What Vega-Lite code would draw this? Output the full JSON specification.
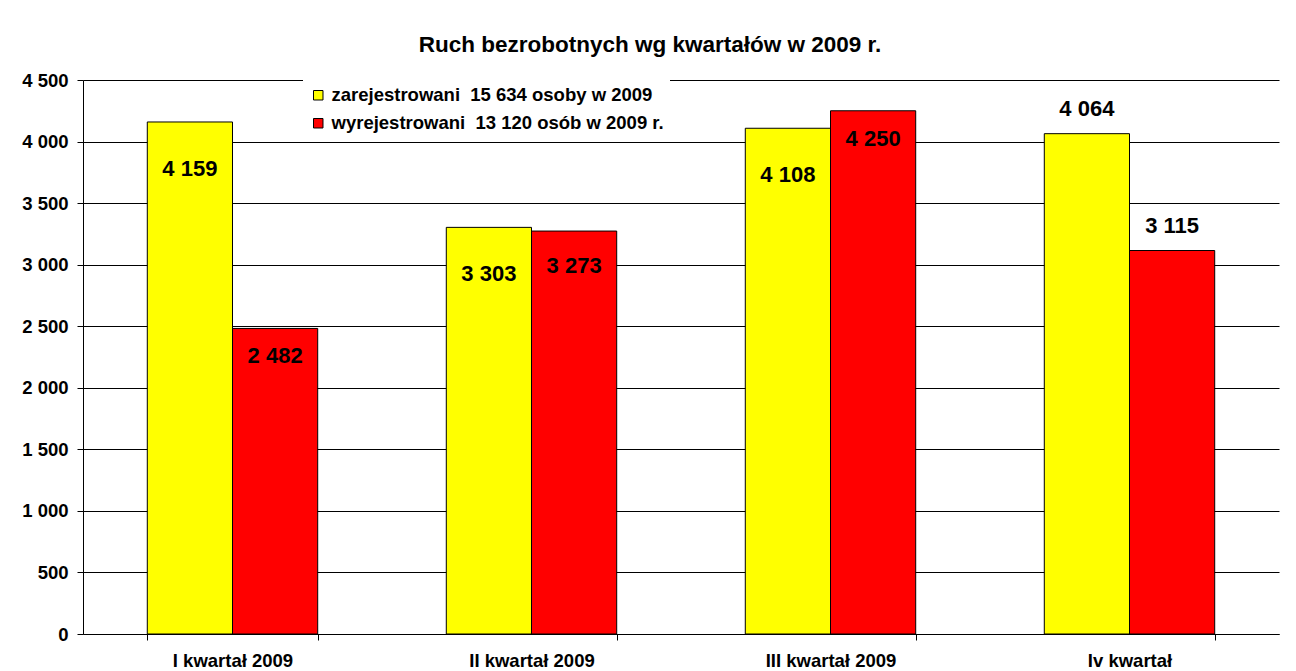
{
  "$schema": "https://vega.github.io/schema/vega-lite/v6.json",
  "width": 1196,
  "height": 554,
  "autosize": {"type": "none"},
  "padding": {"left": 83, "top": 80, "right": 17, "bottom": 37},
  "background": "white",
  "config": {
    "font": "Liberation Sans",
    "locale": {"number": {"decimal": ",", "thousands": " ", "grouping": [3], "currency": ["", " zł"]}},
    "view": {"stroke": null}
  },
  "title": {
    "text": "Ruch bezrobotnych wg kwartałów w 2009 r.",
    "fontSize": 22.5,
    "fontWeight": "bold",
    "color": "black",
    "anchor": "middle",
    "dx": -31,
    "offset": 15
  },
  "data": {
    "values": [
      {"kwartal": "I kwartał 2009", "seria": "zarejestrowani", "osoby": 4159},
      {"kwartal": "I kwartał 2009", "seria": "wyrejestrowani", "osoby": 2482},
      {"kwartal": "II kwartał 2009", "seria": "zarejestrowani", "osoby": 3303},
      {"kwartal": "II kwartał 2009", "seria": "wyrejestrowani", "osoby": 3273},
      {"kwartal": "III kwartał 2009", "seria": "zarejestrowani", "osoby": 4108},
      {"kwartal": "III kwartał 2009", "seria": "wyrejestrowani", "osoby": 4250},
      {"kwartal": "Iv kwartał", "seria": "zarejestrowani", "osoby": 4064},
      {"kwartal": "Iv kwartał", "seria": "wyrejestrowani", "osoby": 3115}
    ]
  },
  "encoding": {
    "x": {
      "field": "kwartal",
      "type": "nominal",
      "sort": ["I kwartał 2009", "II kwartał 2009", "III kwartał 2009", "Iv kwartał"],
      "scale": {"paddingInner": 0.43, "paddingOuter": 0.215},
      "axis": {
        "title": null,
        "labelAngle": 0,
        "labelFontSize": 18.5,
        "labelFontWeight": "bold",
        "labelColor": "black",
        "labelPadding": 11,
        "domainColor": "black",
        "tickColor": "black",
        "tickSize": 6,
        "tickBand": "extent",
        "grid": false
      }
    },
    "xOffset": {
      "field": "seria",
      "type": "nominal",
      "sort": ["zarejestrowani", "wyrejestrowani"]
    },
    "y": {
      "field": "osoby",
      "type": "quantitative",
      "scale": {"domain": [0, 4500], "nice": false},
      "axis": {
        "title": null,
        "values": [0, 500, 1000, 1500, 2000, 2500, 3000, 3500, 4000, 4500],
        "format": ",d",
        "labelFontSize": 18.5,
        "labelFontWeight": "bold",
        "labelColor": "black",
        "labelPadding": 9,
        "domainColor": "black",
        "tickColor": "black",
        "tickSize": 6,
        "gridColor": "black",
        "gridOpacity": 1,
        "gridWidth": 1
      }
    }
  },
  "layer": [
    {
      "mark": {"type": "bar", "stroke": "black", "strokeWidth": 1},
      "encoding": {
        "color": {
          "field": "seria",
          "type": "nominal",
          "sort": ["zarejestrowani", "wyrejestrowani"],
          "scale": {"domain": ["zarejestrowani", "wyrejestrowani"], "range": ["#FFFF00", "#FF0000"]},
          "legend": {
            "title": null,
            "orient": "none",
            "legendX": 220,
            "legendY": 0,
            "padding": 6,
            "fillColor": "white",
            "symbolType": "square",
            "symbolSize": 90,
            "symbolStrokeColor": "black",
            "symbolStrokeWidth": 1,
            "symbolOpacity": 1,
            "labelFontSize": 18.5,
            "labelFontWeight": "bold",
            "labelColor": "black",
            "labelLimit": 700,
            "rowPadding": 9,
            "labelOffset": 4,
            "labelExpr": "datum.label == 'zarejestrowani' ? 'zarejestrowani\u00a0\u00a015 634 osoby w 2009' : 'wyrejestrowani\u00a0\u00a013 120 osób w 2009 r.'"
          }
        }
      }
    },
    {
      "transform": [{"filter": "datum.seria == 'zarejestrowani' && datum.kwartal != 'Iv kwartał'"}],
      "mark": {"type": "text", "fontSize": 22, "fontWeight": "bold", "color": "black", "baseline": "middle", "dy": 47},
      "encoding": {"text": {"field": "osoby", "type": "quantitative", "format": ",d"}}
    },
    {
      "transform": [{"filter": "datum.seria == 'wyrejestrowani' && (datum.kwartal == 'I kwartał 2009' || datum.kwartal == 'III kwartał 2009')"}],
      "mark": {"type": "text", "fontSize": 22, "fontWeight": "bold", "color": "black", "baseline": "middle", "dy": 28},
      "encoding": {"text": {"field": "osoby", "type": "quantitative", "format": ",d"}}
    },
    {
      "transform": [{"filter": "datum.seria == 'wyrejestrowani' && datum.kwartal == 'II kwartał 2009'"}],
      "mark": {"type": "text", "fontSize": 22, "fontWeight": "bold", "color": "black", "baseline": "middle", "dy": 35},
      "encoding": {"text": {"field": "osoby", "type": "quantitative", "format": ",d"}}
    },
    {
      "transform": [{"filter": "datum.kwartal == 'Iv kwartał'"}],
      "mark": {"type": "text", "fontSize": 22, "fontWeight": "bold", "color": "black", "baseline": "middle", "dy": -25},
      "encoding": {"text": {"field": "osoby", "type": "quantitative", "format": ",d"}}
    }
  ]
}
